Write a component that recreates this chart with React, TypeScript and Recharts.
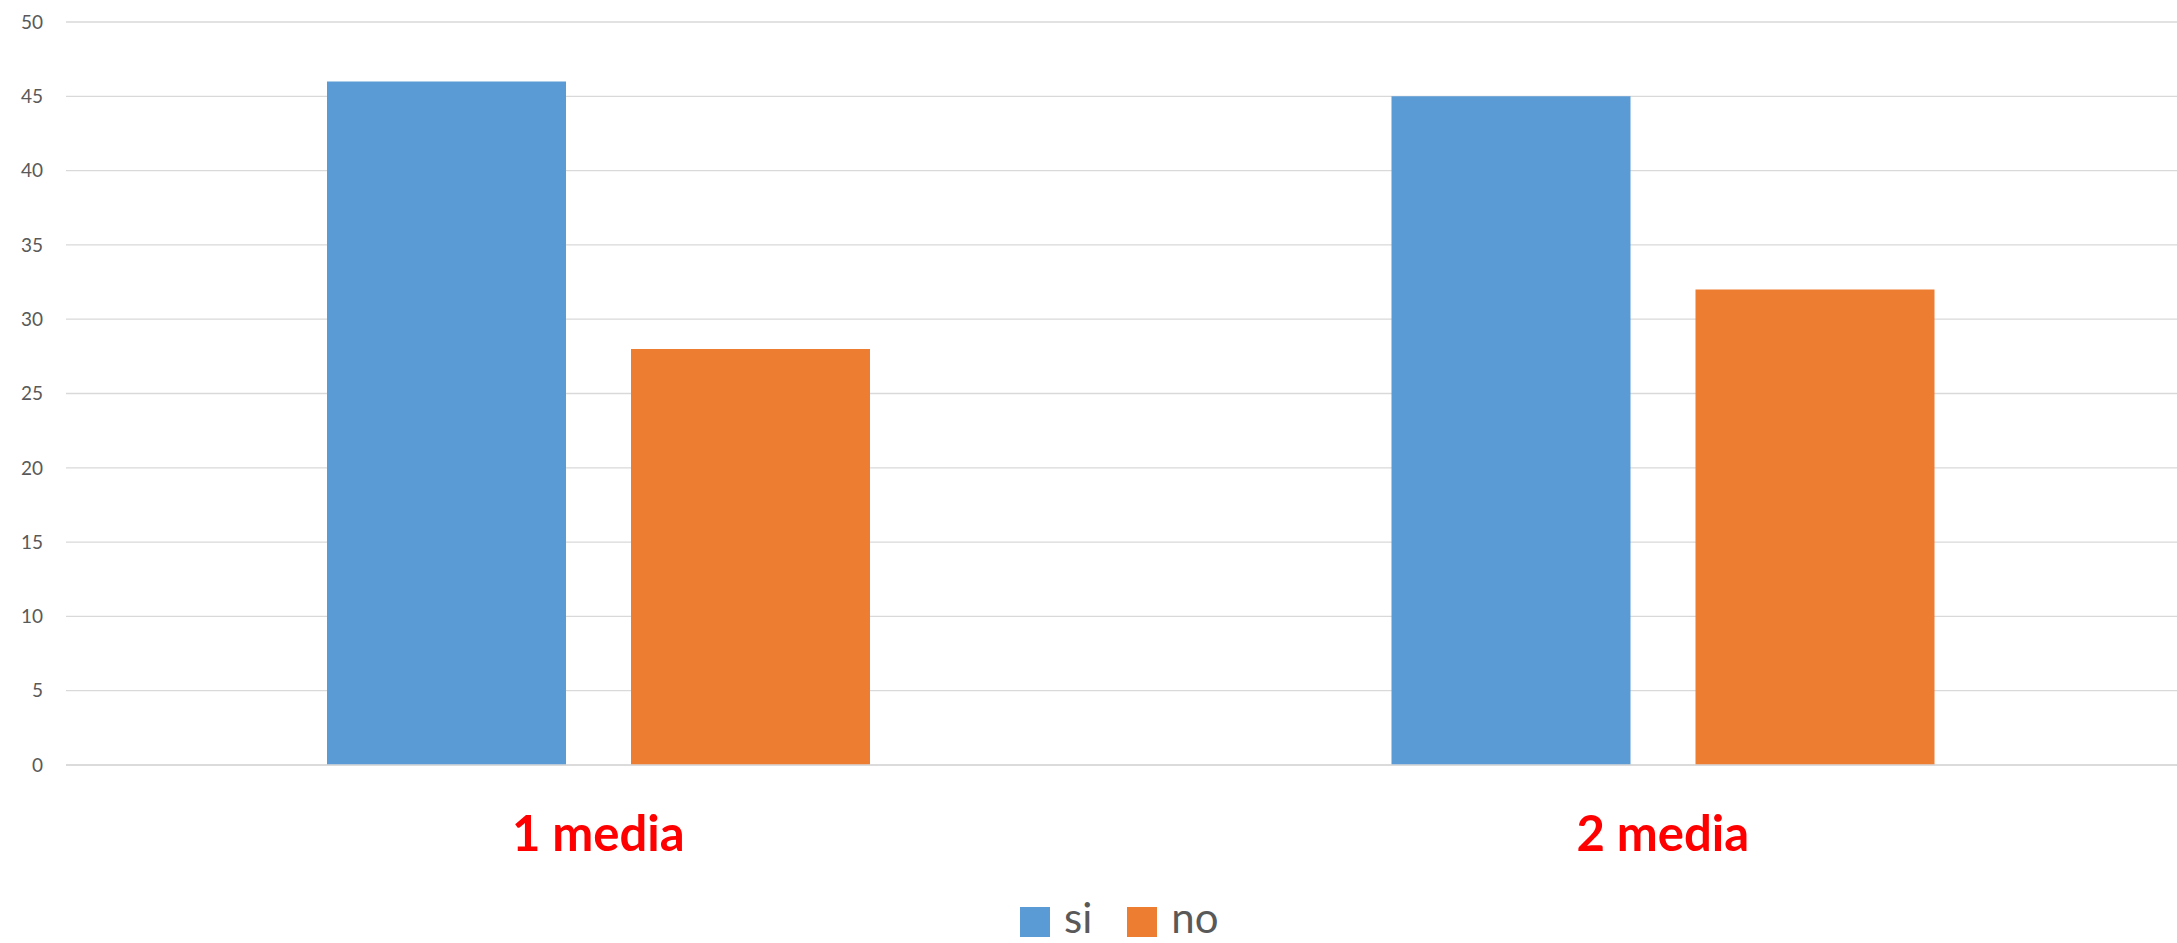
import { BarChart, Bar, XAxis, YAxis, CartesianGrid, Legend } from "recharts";

const categories = ["1 media", "2 media"];
const siValues = [46, 45];
const noValues = [28, 32];
const yTicks = [0, 5, 10, 15, 20, 25, 30, 35, 40, 45, 50];

const SERIES = [
  { key: "si", color: "#5B9BD5" },
  { key: "no", color: "#ED7D31" },
];

const FONT = 'Lato, "Open Sans", sans-serif';

const data = categories.map((c, i) => ({ name: c, si: siValues[i], no: noValues[i] }));

function LegendContent() {
  return (
    <div style={{ display: "flex", alignItems: "center", height: 40, fontFamily: FONT, fontSize: 42, lineHeight: "40px", color: "#595959" }}>
      {SERIES.map((s, i) => (
        <div key={s.key} style={{ display: "flex", alignItems: "center", marginRight: i === 0 ? 35 : 0 }}>
          <span style={{ display: "inline-block", width: 30, height: 30, background: s.color, marginRight: 14 }} />
          <span style={{ position: "relative", top: -5 }}>{s.key}</span>
        </div>
      ))}
    </div>
  );
}

export default function App() {
  return (
    <div style={{ position: "fixed", left: 0, top: 0, width: 2177, height: 943, overflow: "hidden", background: "#fff" }}>
      <BarChart
        width={2195}
        height={943}
        data={data}
        margin={{ top: 22, right: 0, bottom: 78, left: 0 }}
        barSize={239}
        barGap={65}
      >
        <CartesianGrid vertical={false} stroke="#d9d9d9" strokeWidth={1.3} />
        <XAxis
          dataKey="name"
          height={100}
          axisLine={{ stroke: "#d9d9d9", strokeWidth: 1.3 }}
          tickLine={false}
          tickSize={0}
          tickMargin={51}
          tick={{ fontSize: 49, fontWeight: 700, fill: "#ff0000", fontFamily: FONT }}
        />
        <YAxis
          width={66}
          domain={[0, 50]}
          ticks={yTicks}
          axisLine={false}
          tickLine={false}
          tickSize={0}
          tickMargin={23}
          tick={{ fontSize: 19, fill: "#595959", fontFamily: FONT }}
        />
        <Legend
          layout="horizontal"
          verticalAlign="middle"
          wrapperStyle={{ top: 902, left: 1020, width: "auto" }}
          content={<LegendContent />}
        />
        {SERIES.map((s) => (
          <Bar key={s.key} dataKey={s.key} fill={s.color} isAnimationActive={false} />
        ))}
      </BarChart>
    </div>
  );
}
